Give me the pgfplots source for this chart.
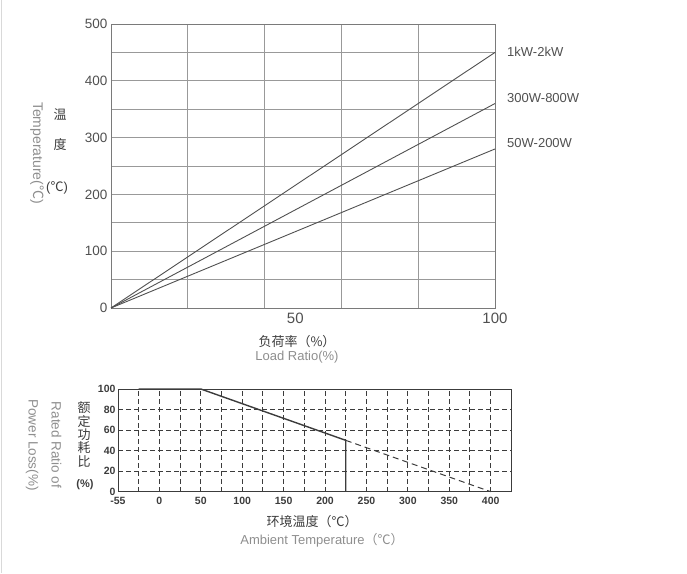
\documentclass[border=0pt]{standalone}
\usepackage{fontspec}
\setmainfont{Liberation Sans}
\newfontfamily\cjk{Noto Sans CJK SC}
\usepackage{pgfplots}
\pgfplotsset{compat=1.18}
\definecolor{dk}{HTML}{3C3C3C}
\definecolor{md}{HTML}{505050}
\definecolor{lt}{HTML}{8E8E8E}
\definecolor{gr}{HTML}{999999}
\newcommand\fs[1]{\fontsize{#1}{#1}\selectfont}
\newcommand\degC{{\cjk ℃}}
\begin{document}
\begin{tikzpicture}[x=1pt,y=1pt]
\useasboundingbox (0,0) rectangle (687,573);
\draw[gray!30, line width=1pt] (1,0) -- (1,573);
% ---------------- top chart ----------------
\begin{axis}[at={(111pt,265pt)}, anchor=south west, scale only axis,
  width=384pt, height=284pt,
  xmin=0, xmax=100, ymin=0, ymax=500,
  xtick={48,100}, xticklabels={50,100},
  ytick={0,100,...,500},
  minor xtick={0,20,...,100}, minor ytick={0,50,...,500},
  grid=minor, minor grid style={gr, line width=0.8pt},
  major tick length=0pt, minor tick length=0pt,
  axis line style={gr!80!black, line width=0.9pt},
  /pgf/number format/assume math mode=true,
  xticklabel style={font=\fs{15}, text=md, yshift=-1pt},
  yticklabel style={font=\fs{13.5}, text=md},
  clip=false]
\addplot[md, line width=0.9pt] coordinates {(0,0) (100,450)};
\addplot[md, line width=0.9pt] coordinates {(0,0) (100,360)};
\addplot[md, line width=0.9pt] coordinates {(0,0) (100,280)};
\node[anchor=west, inner sep=0pt, font=\fs{13}, text=md, xshift=12pt] at (axis cs:100,451) {1kW-2kW};
\node[anchor=west, inner sep=0pt, font=\fs{13}, text=md, xshift=12pt] at (axis cs:100,370) {300W-800W};
\node[anchor=west, inner sep=0pt, font=\fs{13}, text=md, xshift=12pt] at (axis cs:100,290) {50W-200W};
\end{axis}
% ---------------- bottom chart ----------------
\begin{axis}[at={(118pt,81.3pt)}, anchor=south west, scale only axis,
  width=393.4pt, height=102.7pt,
  xmin=-50, xmax=425, ymin=0, ymax=100,
  xtick={-50,0,50,...,400}, xticklabels={-55,0,50,100,150,200,250,300,350,400},
  ytick={0,20,...,100},
  minor xtick={-25,0,...,400}, minor ytick={20,40,60,80},
  grid=minor, minor grid style={dk, line width=1pt, dash pattern=on 5pt off 3pt},
  major tick length=0pt, minor tick length=0pt,
  axis line style={dk, line width=1pt},
  /pgf/number format/assume math mode=true,
  xticklabel style={font=\bfseries\fs{10.5}, text=dk, yshift=-2pt},
  yticklabel style={font=\bfseries\fs{10.5}, text=dk, xshift=1pt},
  clip=false]
\addplot[dk, line width=1.4pt] coordinates {(-25,100) (50,100) (225,50) (225,0)};
\addplot[dk, line width=1pt, dash pattern=on 6pt off 4pt] coordinates {(225,50) (400,0)};
\end{axis}
% ---------------- labels ----------------
\node[font=\cjk\fs{13}, text=dk] at (60,458) {温};
\node[font=\cjk\fs{13}, text=dk] at (60,428) {度};
\node[font=\fs{13}, text=dk] at (57,385) {(\degC)};
\node[font=\fs{14}, text=lt, rotate=-90] at (37,420) {Temperature(\degC)};
\node[font=\cjk\fs{13}, text=dk] at (297,231) {负荷率（\%）};
\node[font=\fs{13}, text=lt] at (297,216) {Load Ratio(\%)};
\node[font=\cjk\fontsize{13}{13.3}\selectfont, text=dk, align=center, inner sep=0pt] at (84,138.5) {额\\定\\功\\耗\\比};
\node[font=\bfseries\fs{11}, text=dk] at (85,88) {(\%)};
\node[font=\fontsize{13.5}{23}\selectfont, text=lt, rotate=-90, align=center] at (43.5,128) {Rated Ratio of\\Power Loss(\%)};
\node[font=\cjk\fs{13}, text=dk] at (312,51) {环境温度（℃）};
\node[font=\fs{13}, text=lt] at (322,33) {Ambient Temperature{\cjk （℃）}};
\end{tikzpicture}
\end{document}
